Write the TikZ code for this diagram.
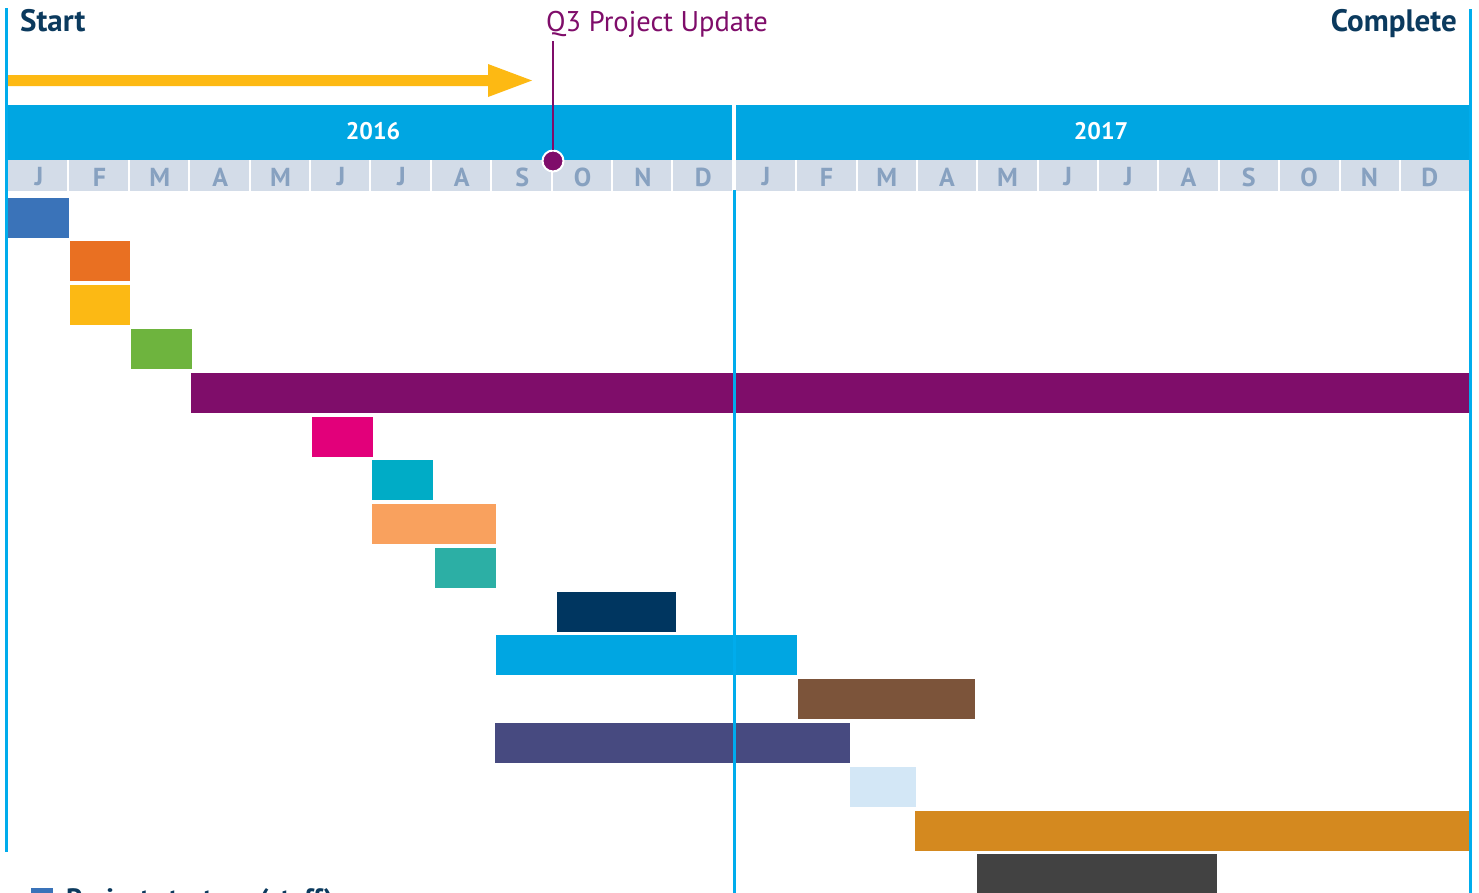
\documentclass[tikz,border=0pt]{standalone}
\usepackage{fontspec}
\setmainfont{PT Sans}
\definecolor{cyanband}{RGB}{0,166,226}
\definecolor{cyanline}{RGB}{0,172,236}
\definecolor{monthbg}{RGB}{211,220,232}
\definecolor{monthtxt}{RGB}{135,161,192}
\definecolor{navytxt}{RGB}{11,58,94}
\definecolor{qpurple}{RGB}{127,13,106}
\definecolor{arrowyellow}{RGB}{253,185,19}
\definecolor{cA}{RGB}{58,115,185}
\definecolor{cB}{RGB}{233,112,34}
\definecolor{cC}{RGB}{252,185,20}
\definecolor{cD}{RGB}{110,180,62}
\definecolor{cE}{RGB}{127,13,106}
\definecolor{cF}{RGB}{226,0,122}
\definecolor{cG}{RGB}{0,172,198}
\definecolor{cH}{RGB}{249,161,94}
\definecolor{cI}{RGB}{44,175,165}
\definecolor{cJ}{RGB}{0,54,96}
\definecolor{cK}{RGB}{0,166,226}
\definecolor{cL}{RGB}{124,84,58}
\definecolor{cM}{RGB}{71,74,128}
\definecolor{cN}{RGB}{211,231,246}
\definecolor{cO}{RGB}{212,137,31}
\definecolor{cP}{RGB}{66,66,66}
\tikzset{
  monthlbl/.style={text=monthtxt,font=\fontsize{26}{26}\selectfont\bfseries,inner sep=0pt},
  yearlbl/.style={text=white,font=\fontsize{24}{24}\selectfont\bfseries,inner sep=0pt},
  endlbl/.style={text=navytxt,font=\fontsize{31}{31}\selectfont\bfseries,inner sep=0pt},
  vline/.style={cyanline,line width=3pt},
  sepline/.style={white,line width=2pt},
}
\begin{document}
\begin{tikzpicture}[x=1pt,y=-1pt]
\useasboundingbox (0,0) rectangle (1479,892);
\fill[white] (0,0) rectangle (1479,892);
% year band
\fill[cyanband] (8,105) rectangle (1469,160);
\fill[white] (732.3,105) rectangle (735.7,160);
\node[yearlbl] (y2016) at (373,131) {2016};
\node[yearlbl] (y2017) at (1101,131) {2017};
% month row
\fill[monthbg] (8,160) rectangle (732.3,190.5);
\fill[monthbg] (735.7,160) rectangle (1468.7,190.5);
\foreach \m [count=\i from 0] in {J,F,M,A,M,J,J,A,S,O,N,D}{
  \pgfmathsetmacro{\xa}{8+\i*60.4}
  \pgfmathsetmacro{\xb}{736+\i*60.35}
  \node[monthlbl] (ma\i) at (\xa+31,177) {\m};
  \node[monthlbl] (mb\i) at (\xb+30,177) {\m};
  \ifnum\i>0
    \draw[sepline] (\xa,160) -- (\xa,190.5);
    \draw[sepline] (\xb,160) -- (\xb,190.5);
  \fi
}
% bars
\fill[cA] (8,198) rectangle (69,238);
\fill[cB] (70,241) rectangle (130,281);
\fill[cC] (70,285) rectangle (130,325);
\fill[cD] (131,329) rectangle (192,369);
\fill[cE] (191,373) rectangle (1469,413);
\fill[cF] (312,417) rectangle (373,457);
\fill[cG] (372,460) rectangle (433,500);
\fill[cH] (372,504) rectangle (496,544);
\fill[cI] (435,548) rectangle (496,588);
\fill[cJ] (557,592) rectangle (676,632);
\fill[cK] (496,635) rectangle (797,675);
\fill[cL] (798,679) rectangle (975,719);
\fill[cM] (495,723) rectangle (850,763);
\fill[cN] (850,767) rectangle (916,807);
\fill[cO] (915,811) rectangle (1469,851);
\fill[cP] (977,854) rectangle (1217,900);
% vertical lines
\coordinate (ltop) at (6.7,8);
\coordinate (lbot) at (6.7,852);
\coordinate (rtop) at (1470.7,9);
\coordinate (rbot) at (1470.7,900);
\coordinate (mtop) at (734.5,190);
\coordinate (mbot) at (734.5,900);
\draw[vline] (ltop) -- (lbot);
\draw[vline] (rtop) -- (rbot);
\draw[vline] (mtop) -- (mbot);
% yellow arrow
\fill[arrowyellow] (8,75) -- (488,75) -- (488,64) -- (532,80.5) -- (488,97) -- (488,86) -- (8,86) -- cycle;
% Q3 marker
\node[text=qpurple,font=\fontsize{28.5}{28.5}\selectfont,inner sep=0pt,anchor=base west] (q3) at (546,31) {Q3 Project Update};
\coordinate (q3top) at (553,41);
\node[circle,fill=qpurple,draw=white,line width=2pt,minimum size=21pt,inner sep=0pt] (q3dot) at (553,161) {};
\draw[qpurple,line width=2.6pt] (q3top) -- (q3dot.north);
% end labels
\node[endlbl,anchor=base west] (start) at (20,31) {Start};
\node[endlbl,anchor=base east] (complete) at (1457,31) {Complete};
% legend (cut off at the bottom edge, as in the reference)
\fill[cA] (31,888) rectangle (53,910);
\node[text=navytxt,font=\fontsize{28}{28}\selectfont\bfseries,inner sep=0pt,anchor=base west] (legend1) at (66,908) {Project start-up (staff)};
\end{tikzpicture}
\end{document}
